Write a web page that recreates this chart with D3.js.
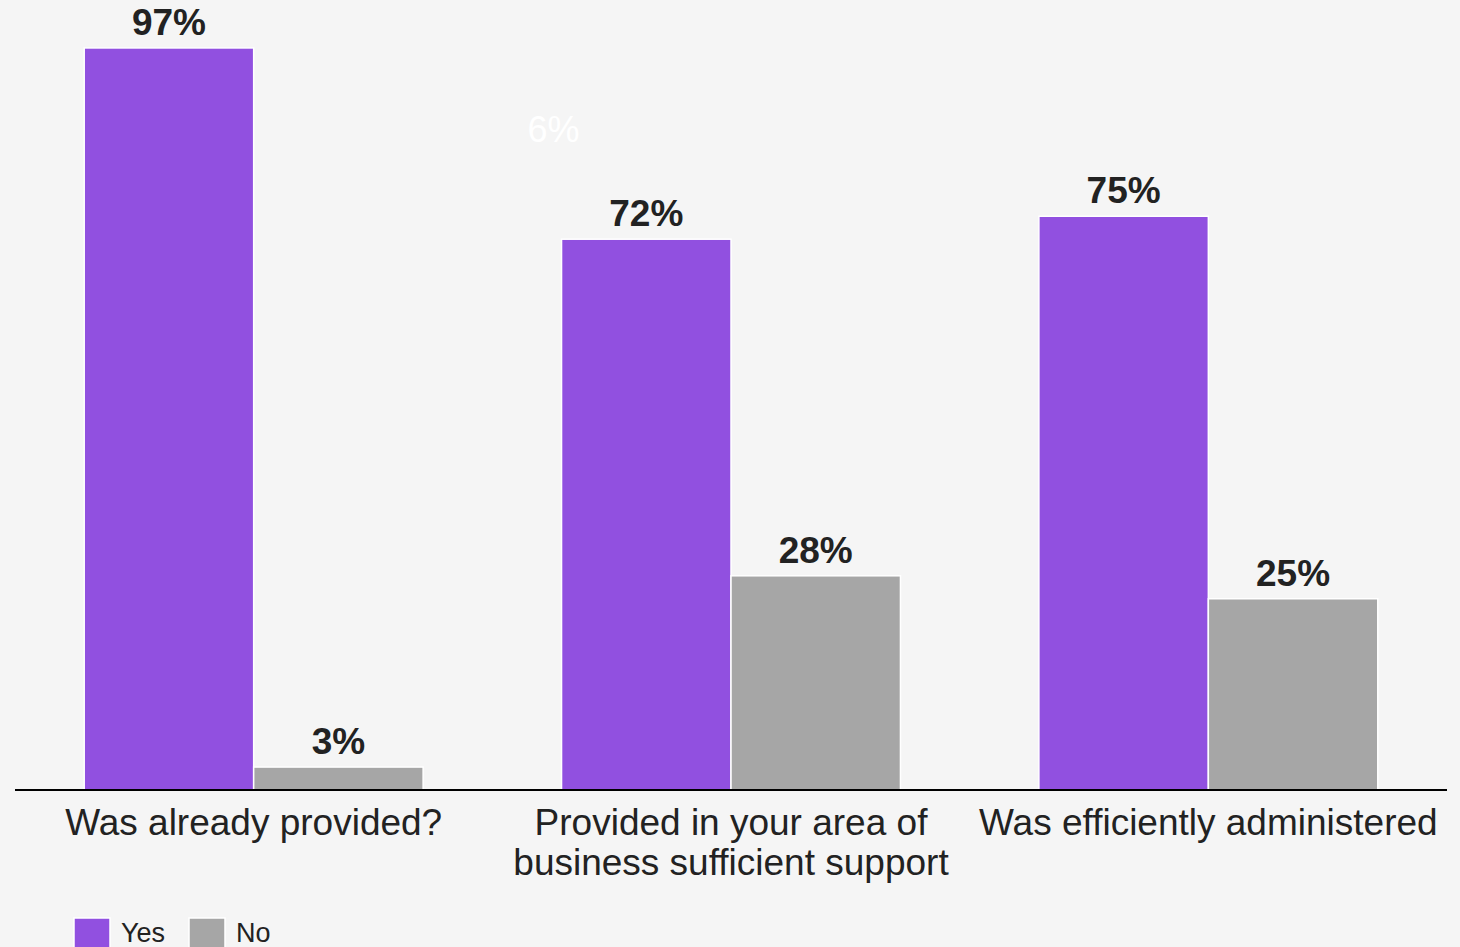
<!DOCTYPE html>
<html><head><meta charset="utf-8">
<script src="https://cdn.jsdelivr.net/npm/d3@7"></script>
<style>
html,body{margin:0;padding:0;background:#f5f5f5;}
svg{display:block;}
text{font-family:"Liberation Sans",Arial,sans-serif;}
</style></head>
<body>
<svg id="chart" width="1460" height="947"></svg>
<script>
const categories = [
  ["Was already provided?"],
  ["Provided in your area of", "business sufficient support"],
  ["Was efficiently administered"]
];
const seriesNames = ["Yes", "No"];
const yesValues = [97, 72, 75];
const noValues = [3, 28, 25];
const strayLabel = {text: "6%", category: 1, value: 86};

const colors = {Yes: "#9150e0", No: "#a6a6a6"};
const W = 1460, H = 947;
const svg = d3.select("#chart");
svg.append("rect").attr("width", W).attr("height", H).attr("fill", "#f5f5f5");

const data = categories.map((c, i) => ({cat: i, lines: c, Yes: yesValues[i], No: noValues[i]}));

const x0 = d3.scaleBand().domain(d3.range(categories.length)).range([15, 1447]).paddingInner(0.29).paddingOuter(0.145);
const x1 = d3.scaleBand().domain(seriesNames).range([0, x0.bandwidth()]).padding(0);
const y = d3.scaleLinear().domain([0, 100]).range([790, 25]);

const g = svg.append("g");
const groups = g.selectAll("g.grp").data(data).join("g").attr("class", "grp")
  .attr("transform", d => `translate(${x0(d.cat)},0)`);

groups.selectAll("rect").data(d => seriesNames.map(s => ({s, v: d[s]}))).join("rect")
  .attr("x", d => x1(d.s))
  .attr("y", d => y(d.v))
  .attr("width", x1.bandwidth())
  .attr("height", d => y(0) - y(d.v))
  .attr("fill", d => colors[d.s])
  .attr("stroke", "#ffffff")
  .attr("stroke-width", 1.5);

groups.selectAll("text.val").data(d => seriesNames.map(s => ({s, v: d[s]}))).join("text")
  .attr("class", "val")
  .attr("x", d => x1(d.s) + x1.bandwidth() / 2)
  .attr("y", d => y(d.v) - 13)
  .attr("text-anchor", "middle")
  .attr("font-size", 37)
  .attr("font-weight", "bold")
  .attr("fill", "#222222")
  .text(d => d.v + "%");

// stray faint label
svg.append("text")
  .attr("x", x0(strayLabel.category) - 8)
  .attr("y", y(strayLabel.value) + 10)
  .attr("text-anchor", "middle")
  .attr("font-size", 36)
  .attr("fill", "#ffffff")
  .text(strayLabel.text);

// axis
const xAxis = d3.axisBottom(x0).tickSize(0).tickFormat(() => "");
const axG = svg.append("g").attr("transform", "translate(0,790)").call(xAxis);
axG.select(".domain").attr("stroke", "#000").attr("stroke-width", 2).attr("d", "M15,0H1447");

// category labels
const catLab = svg.append("g").selectAll("text").data(data).join("text")
  .attr("x", d => x0(d.cat) + x0.bandwidth() / 2)
  .attr("y", 835)
  .attr("text-anchor", "middle")
  .attr("font-size", 37)
  .attr("fill", "#222222");
catLab.selectAll("tspan").data(d => d.lines.map((l, i) => ({l, i, x: x0(d.cat) + x0.bandwidth() / 2}))).join("tspan")
  .attr("x", d => d.x)
  .attr("dy", d => d.i === 0 ? 0 : 40)
  .text(d => d.l);

// legend
const legend = svg.append("g");
const legX = [74, 189];
seriesNames.forEach((s, i) => {
  legend.append("rect").attr("x", legX[i]).attr("y", 918).attr("width", 36).attr("height", 30)
    .attr("fill", colors[s]).attr("stroke", "#ffffff").attr("stroke-width", 1.5);
  legend.append("text").attr("x", legX[i] + 47).attr("y", 942)
    .attr("font-size", 27).attr("fill", "#222222").text(s);
});
</script>
</body></html>
